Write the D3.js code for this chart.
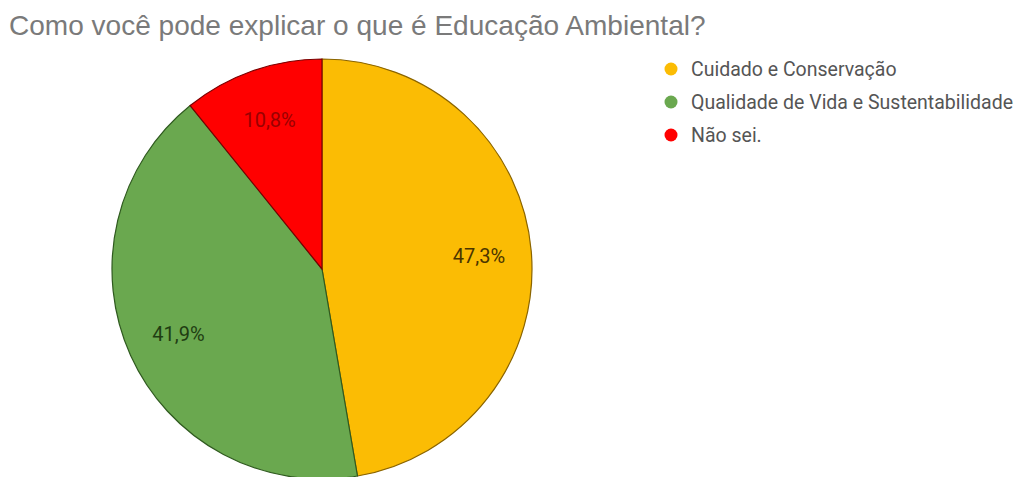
<!DOCTYPE html>
<html>
<head>
<meta charset="utf-8">
<script src="https://cdn.jsdelivr.net/npm/d3@7"></script>
<style>
  body { margin: 0; background: #fff; }
  svg { display: block; font-family: Roboto, Arial, sans-serif; }
</style>
</head>
<body>
<svg id="chart" width="1021" height="477"></svg>
<script>
var categories = ['Cuidado e Conservação', 'Qualidade de Vida e Sustentabilidade', 'Não sei.']
var values = [47.3, 41.9, 10.8]
var labels = ['47,3%', '41,9%', '10,8%']
var colors = ['#fbbc04', '#6aa84f', '#ff0000']
var strokes = ['#8a6400', '#2f5a1f', '#7a0000']
var labelColors = ['#4a3500', '#1f3d12', '#9a0000']

var svg = d3.select('#chart')

// fit a text element to a given width
function fit(sel, width) {
  var w = sel.node().getComputedTextLength()
  var fs = +sel.attr('font-size')
  sel.attr('font-size', fs * width / w)
}

var title = svg.append('text')
   .attr('x', 9)
   .attr('y', 35)
   .attr('font-size', 28)
   .attr('font-family', '"Liberation Sans", Arial, sans-serif')
   .attr('fill', '#7a7a7a')
   .text('Como você pode explicar o que é Educação Ambiental?')
fit(title, 697)

var cx = 322, cy = 269, r = 210

var pie = d3.pie().sort(null).value(function (d) { return d })
var arc = d3.arc().innerRadius(0).outerRadius(r)
var arcs = pie(values)

var g = svg.append('g').attr('transform', 'translate(' + [cx, cy] + ')')

g.selectAll('path.slice')
 .data(arcs)
 .enter().append('path')
 .attr('class', 'slice')
 .attr('d', arc)
 .attr('fill', function (d, i) { return colors[i] })
 .attr('stroke', function (d, i) { return strokes[i] })
 .attr('stroke-width', 1.2)

var labelArc = d3.arc().innerRadius(r * 0.75).outerRadius(r * 0.75)
g.selectAll('text.pct')
 .data(arcs)
 .enter().append('text')
 .attr('class', 'pct')
 .attr('transform', function (d) { return 'translate(' + labelArc.centroid(d) + ')' })
 .attr('text-anchor', 'middle')
 .attr('dy', '0.35em')
 .attr('font-size', 20)
 .attr('fill', function (d, i) { return labelColors[i] })
 .text(function (d, i) { return labels[i] })

var legend = svg.append('g')
var item = legend.selectAll('g')
  .data(categories)
  .enter().append('g')
  .attr('transform', function (d, i) { return 'translate(671,' + (69 + i * 33) + ')' })

item.append('circle')
    .attr('r', 6.5)
    .attr('fill', function (d, i) { return colors[i] })

item.append('text')
    .attr('x', 20)
    .attr('dy', '0.35em')
    .attr('font-size', 19.5)
    .attr('fill', '#555')
    .text(function (d) { return d })
</script>
</body>
</html>
